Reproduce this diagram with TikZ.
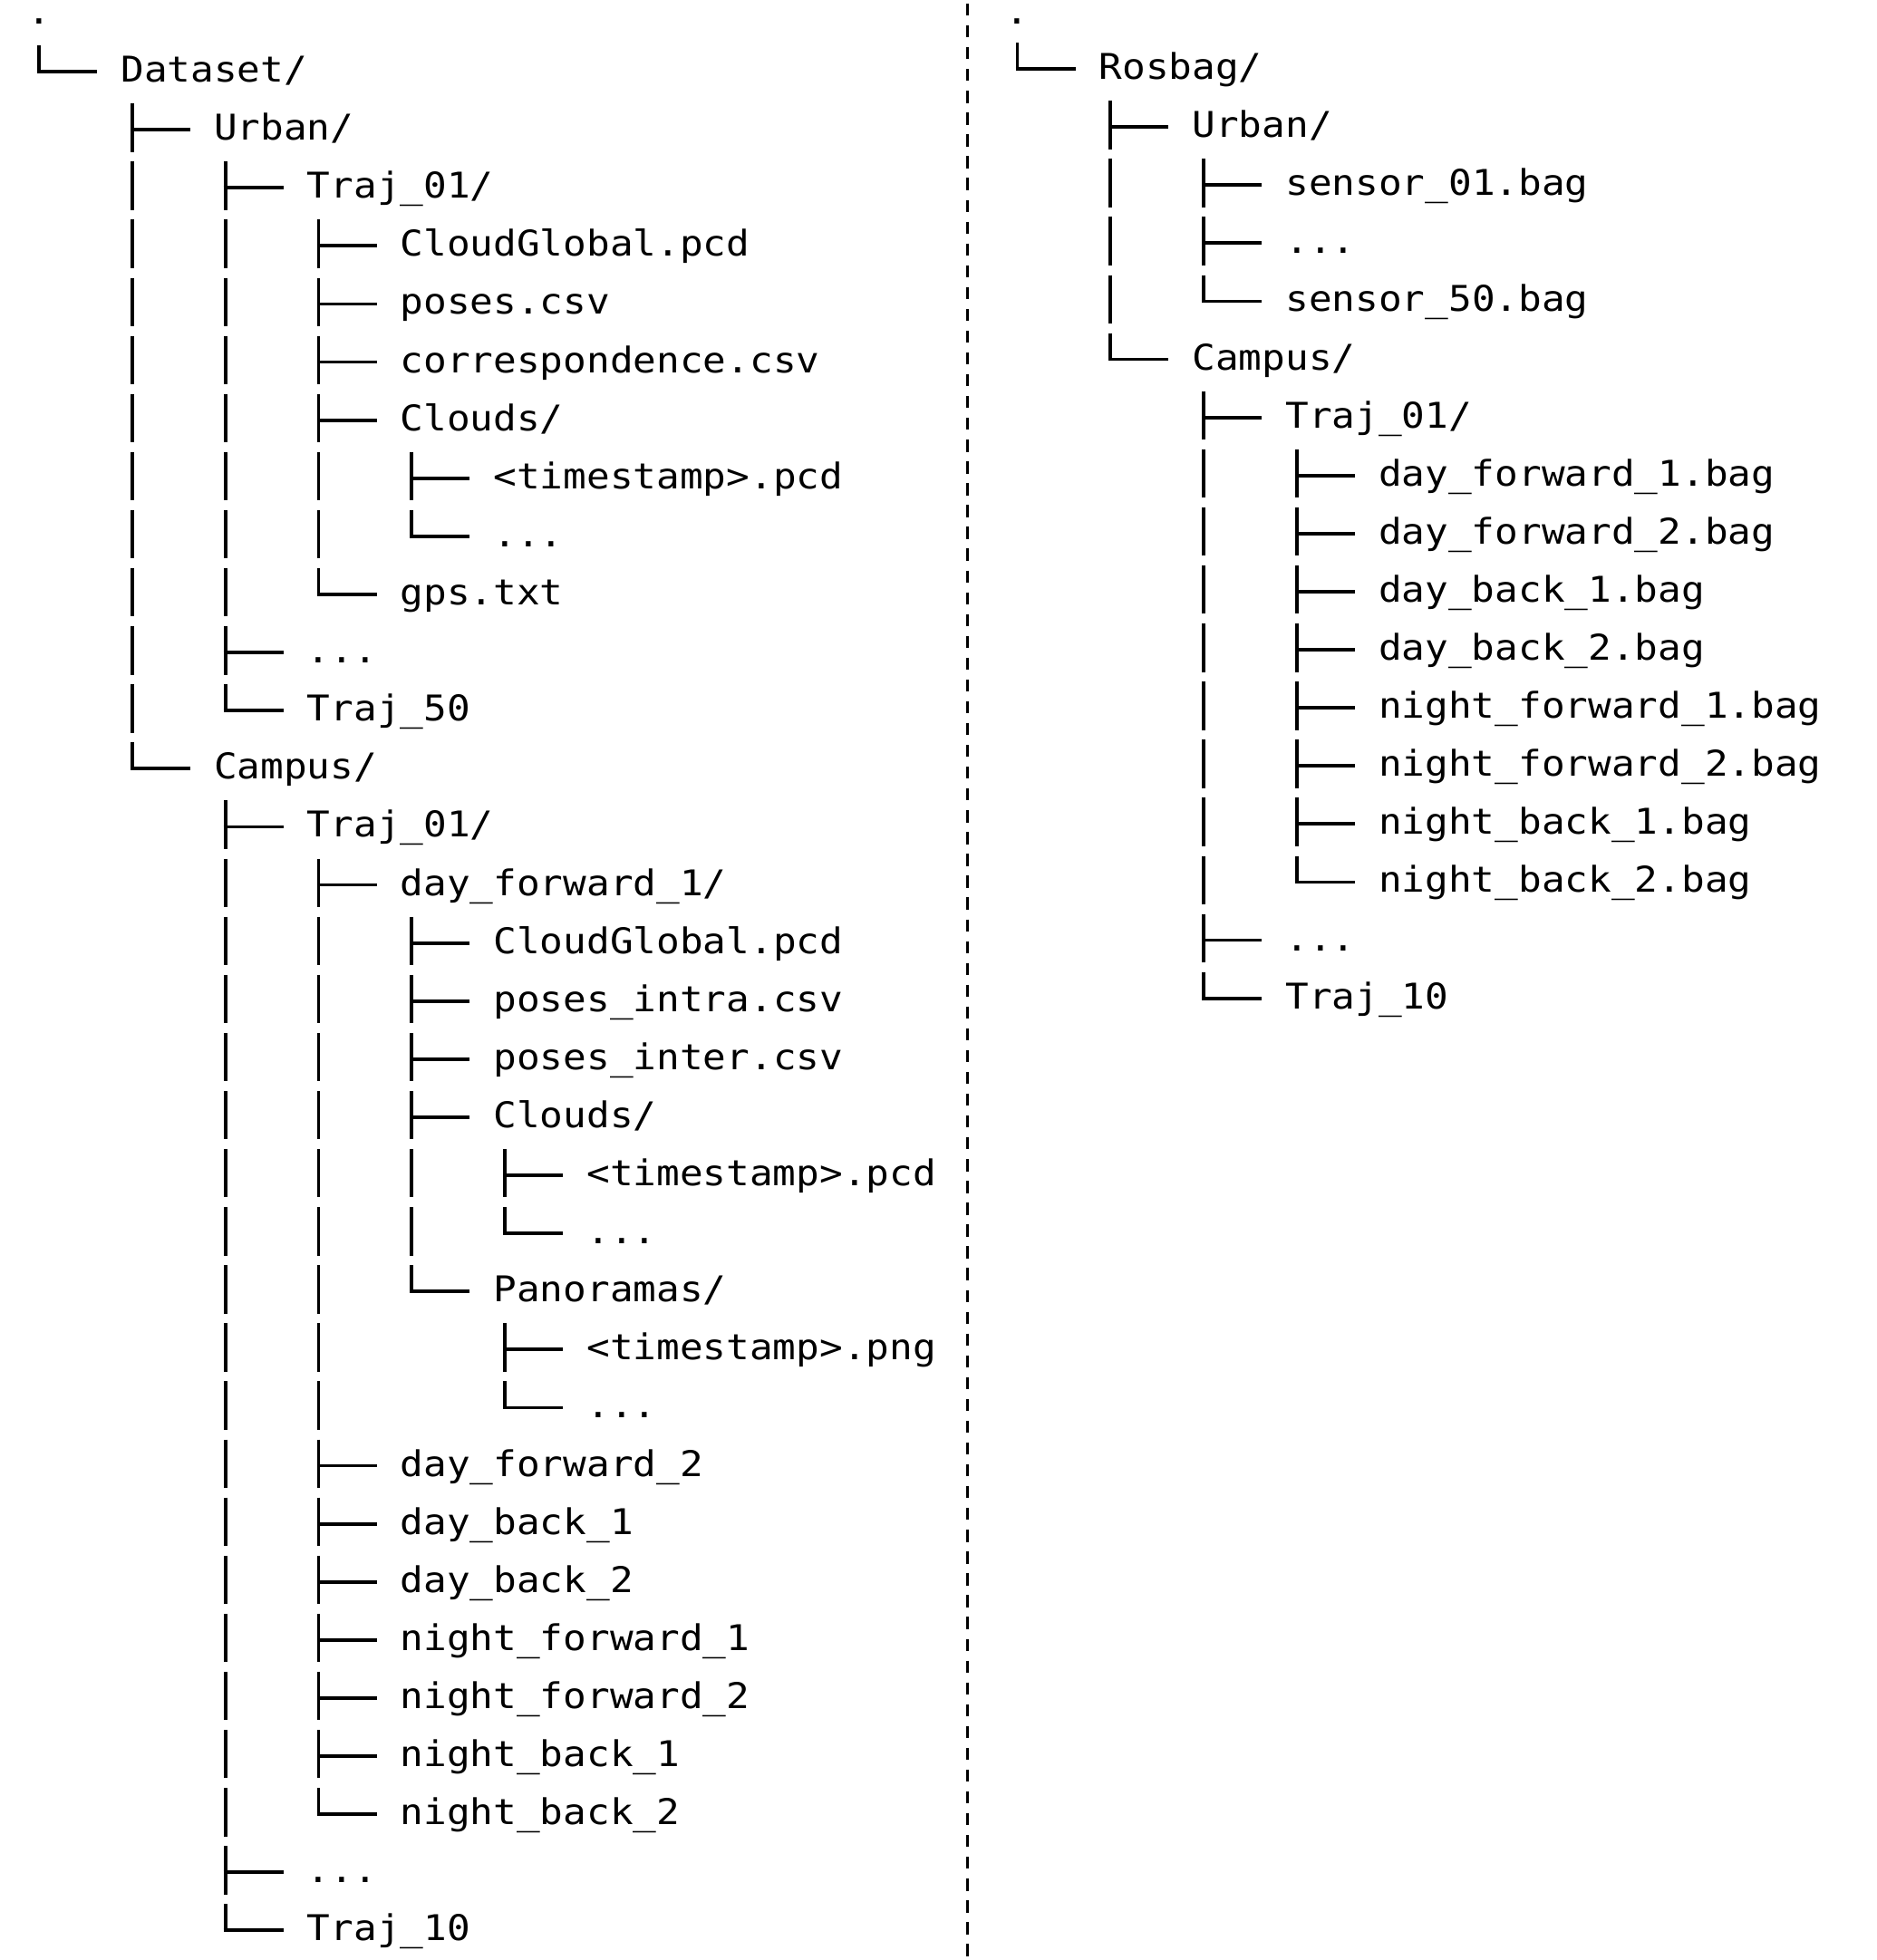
\documentclass[tikz,border=0pt]{standalone}
\usepackage{fontspec}
\newfontfamily\treefont{DejaVu Sans Mono}[FakeStretch=1.092]
\begin{document}
\begin{tikzpicture}[x=12.85pt,y=-32.05pt,
entry/.style={anchor=west,inner sep=0pt,text height=15pt,text depth=3.5pt,font=\treefont\fontsize{19.55pt}{20pt}\selectfont},
rootdot/.style={entry,text height=11.5pt,text depth=0pt},
stem/.style={line width=1.9pt,dash pattern=on 26.7pt off 5.35pt},
twig/.style={line width=1.9pt,shorten <=-0.95pt,shorten >=12.85pt},
divider/.style={line width=1.35pt,dash pattern=on 6.67pt off 5.36pt}]
\useasboundingbox (-1.173,-0.234) rectangle (79.41,33.51);

% Dataset
\node[rootdot](D0) at (0,0){.};
\node[entry](D1) at (4,1){Dataset/};
\node[entry](D2) at (8,2){Urban/};
\node[entry](D3) at (12,3){Traj\_01/};
\node[entry](D4) at (16,4){CloudGlobal.pcd};
\node[entry](D5) at (16,5){poses.csv};
\node[entry](D6) at (16,6){correspondence.csv};
\node[entry](D7) at (16,7){Clouds/};
\node[entry](D8) at (20,8){<timestamp>.pcd};
\node[entry](D9) at (20,9){...};
\node[entry](D10) at (16,10){gps.txt};
\node[entry](D11) at (12,11){...};
\node[entry](D12) at (12,12){Traj\_50};
\node[entry](D13) at (8,13){Campus/};
\node[entry](D14) at (12,14){Traj\_01/};
\node[entry](D15) at (16,15){day\_forward\_1/};
\node[entry](D16) at (20,16){CloudGlobal.pcd};
\node[entry](D17) at (20,17){poses\_intra.csv};
\node[entry](D18) at (20,18){poses\_inter.csv};
\node[entry](D19) at (20,19){Clouds/};
\node[entry](D20) at (24,20){<timestamp>.pcd};
\node[entry](D21) at (24,21){...};
\node[entry](D22) at (20,22){Panoramas/};
\node[entry](D23) at (24,23){<timestamp>.png};
\node[entry](D24) at (24,24){...};
\node[entry](D25) at (16,25){day\_forward\_2};
\node[entry](D26) at (16,26){day\_back\_1};
\node[entry](D27) at (16,27){day\_back\_2};
\node[entry](D28) at (16,28){night\_forward\_1};
\node[entry](D29) at (16,29){night\_forward\_2};
\node[entry](D30) at (16,30){night\_back\_1};
\node[entry](D31) at (16,31){night\_back\_2};
\node[entry](D32) at (12,32){...};
\node[entry](D33) at (12,33){Traj\_10};

\coordinate(S0) at ([shift={(0.5,0.548)}]D0.west);
\coordinate(S1) at ([shift={(0.5,0.548)}]D1.west);
\coordinate(S2) at ([shift={(0.5,0.548)}]D2.west);
\coordinate(S3) at ([shift={(0.5,0.548)}]D3.west);
\coordinate(S7) at ([shift={(0.5,0.548)}]D7.west);
\coordinate(S13) at ([shift={(0.5,0.548)}]D13.west);
\coordinate(S14) at ([shift={(0.5,0.548)}]D14.west);
\coordinate(S15) at ([shift={(0.5,0.548)}]D15.west);
\coordinate(S19) at ([shift={(0.5,0.548)}]D19.west);
\coordinate(S22) at ([shift={(0.5,0.548)}]D22.west);

\draw[stem](S0)--(S0|-D1);
\draw[stem](S1)--(S1|-D13);
\draw[stem](S2)--(S2|-D12);
\draw[stem](S3)--(S3|-D10);
\draw[stem](S7)--(S7|-D9);
\draw[stem](S13)--(S13|-D33);
\draw[stem](S14)--(S14|-D31);
\draw[stem](S15)--(S15|-D22);
\draw[stem](S19)--(S19|-D21);
\draw[stem](S22)--(S22|-D24);

\draw[twig](S0|-D1)--(D1);
\draw[twig](S1|-D2)--(D2);
\draw[twig](S1|-D13)--(D13);
\draw[twig](S2|-D3)--(D3);
\draw[twig](S2|-D11)--(D11);
\draw[twig](S2|-D12)--(D12);
\draw[twig](S3|-D4)--(D4);
\draw[twig](S3|-D5)--(D5);
\draw[twig](S3|-D6)--(D6);
\draw[twig](S3|-D7)--(D7);
\draw[twig](S3|-D10)--(D10);
\draw[twig](S7|-D8)--(D8);
\draw[twig](S7|-D9)--(D9);
\draw[twig](S13|-D14)--(D14);
\draw[twig](S13|-D32)--(D32);
\draw[twig](S13|-D33)--(D33);
\draw[twig](S14|-D15)--(D15);
\draw[twig](S14|-D25)--(D25);
\draw[twig](S14|-D26)--(D26);
\draw[twig](S14|-D27)--(D27);
\draw[twig](S14|-D28)--(D28);
\draw[twig](S14|-D29)--(D29);
\draw[twig](S14|-D30)--(D30);
\draw[twig](S14|-D31)--(D31);
\draw[twig](S15|-D16)--(D16);
\draw[twig](S15|-D17)--(D17);
\draw[twig](S15|-D18)--(D18);
\draw[twig](S15|-D19)--(D19);
\draw[twig](S15|-D22)--(D22);
\draw[twig](S19|-D20)--(D20);
\draw[twig](S19|-D21)--(D21);
\draw[twig](S22|-D23)--(D23);
\draw[twig](S22|-D24)--(D24);

% separator
\draw[divider] (40.36,-0.172)--(40.36,33.51);

% Rosbag
\begin{scope}[shift={(42,-0.047)}]
\node[rootdot](R0) at (0,0.047){.};
\node[entry](R1) at (4,1){Rosbag/};
\node[entry](R2) at (8,2){Urban/};
\node[entry](R3) at (12,3){sensor\_01.bag};
\node[entry](R4) at (12,4){...};
\node[entry](R5) at (12,5){sensor\_50.bag};
\node[entry](R6) at (8,6){Campus/};
\node[entry](R7) at (12,7){Traj\_01/};
\node[entry](R8) at (16,8){day\_forward\_1.bag};
\node[entry](R9) at (16,9){day\_forward\_2.bag};
\node[entry](R10) at (16,10){day\_back\_1.bag};
\node[entry](R11) at (16,11){day\_back\_2.bag};
\node[entry](R12) at (16,12){night\_forward\_1.bag};
\node[entry](R13) at (16,13){night\_forward\_2.bag};
\node[entry](R14) at (16,14){night\_back\_1.bag};
\node[entry](R15) at (16,15){night\_back\_2.bag};
\node[entry](R16) at (12,16){...};
\node[entry](R17) at (12,17){Traj\_10};
\end{scope}

\coordinate(T0) at ([shift={(0.5,0.501)}]R0.west);
\coordinate(T1) at ([shift={(0.5,0.548)}]R1.west);
\coordinate(T2) at ([shift={(0.5,0.548)}]R2.west);
\coordinate(T6) at ([shift={(0.5,0.548)}]R6.west);
\coordinate(T7) at ([shift={(0.5,0.548)}]R7.west);

\draw[stem](T0)--(T0|-R1);
\draw[stem](T1)--(T1|-R6);
\draw[stem](T2)--(T2|-R5);
\draw[stem](T6)--(T6|-R17);
\draw[stem](T7)--(T7|-R15);

\draw[twig](T0|-R1)--(R1);
\draw[twig](T1|-R2)--(R2);
\draw[twig](T1|-R6)--(R6);
\draw[twig](T2|-R3)--(R3);
\draw[twig](T2|-R4)--(R4);
\draw[twig](T2|-R5)--(R5);
\draw[twig](T6|-R7)--(R7);
\draw[twig](T6|-R16)--(R16);
\draw[twig](T6|-R17)--(R17);
\draw[twig](T7|-R8)--(R8);
\draw[twig](T7|-R9)--(R9);
\draw[twig](T7|-R10)--(R10);
\draw[twig](T7|-R11)--(R11);
\draw[twig](T7|-R12)--(R12);
\draw[twig](T7|-R13)--(R13);
\draw[twig](T7|-R14)--(R14);
\draw[twig](T7|-R15)--(R15);
\end{tikzpicture}
\end{document}
